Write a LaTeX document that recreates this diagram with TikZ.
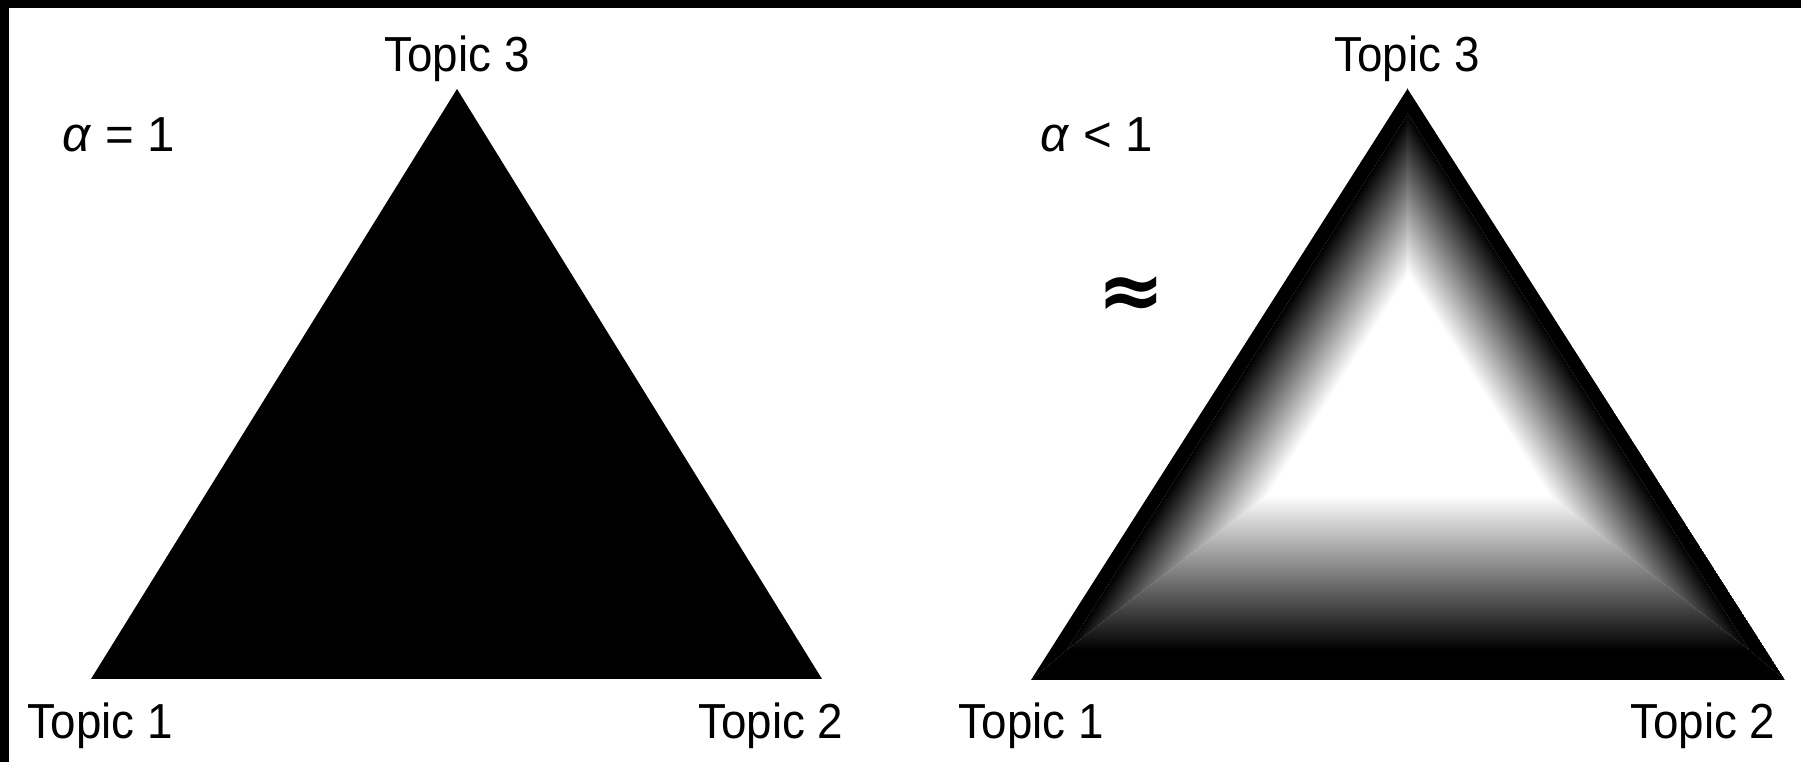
\documentclass[tikz,border=0pt]{standalone}
\usepackage{fontspec}
\setmainfont{Liberation Sans}
\newfontfamily\topicfont{Liberation Sans}[FakeStretch=0.93]
\newfontfamily\signfont{DejaVu Sans}
\usetikzlibrary{calc}

\begin{document}
\begin{tikzpicture}[
      topic/.style={inner sep=0pt, font=\topicfont\fontsize{14}{16}\selectfont},
      param/.style={inner sep=0pt, anchor=base west, font=\fontsize{14}{16}\selectfont},
      approxsign/.style={inner sep=0pt, font=\signfont\bfseries\fontsize{23}{26}\selectfont},
      solid band/.style={fill=black},
      fade band/.style={bottom color=black, top color=white}
  ]
      \useasboundingbox (0,0) rectangle (18.01,7.62);
      \fill[white] (0,0) rectangle (18.01,7.62);
      % frame
      \fill[black] (0,0) rectangle (0.09,7.62);
      \fill[black] (0,7.54) rectangle (18.01,7.62);

      % left simplex, alpha = 1
      \coordinate (l1) at (0.91,0.83);
      \coordinate (l2) at (8.22,0.83);
      \coordinate (l3) at (4.57,6.73);
      \fill[black] (l1) -- (l2) -- (l3) -- cycle;

      % right simplex, alpha < 1
      \coordinate (r1) at (10.31,0.82);
      \coordinate (r2) at (17.85,0.82);
      \coordinate (r3) at (14.07,6.74);
      \coordinate (p1) at ($(r1)+(0.357,0.30)$);
      \coordinate (p2) at ($(r1)+(2.364,1.85)$);
      \coordinate (q1) at ($(r2)+(-0.357,0.30)$);
      \coordinate (q2) at ($(r2)+(-2.364,1.85)$);
      \coordinate (mid) at (14.07,2.67);
      \begin{scope}
        \clip (r1) -- (p1) -- (p2) -- (q2) -- (q1) -- (r2) -- cycle;
        \fill[solid band] (10.31,0.82) rectangle (17.85,1.12);
        \shade[fade band] (10.31,1.12) rectangle (17.85,2.67);
      \end{scope}
      \begin{scope}
        \clip (r1) -- (p1) -- (p2) -- (mid) -- (r3) -- cycle;
        \begin{scope}[transform canvas={shift={(10.31,0.82)}, rotate=57.51, yscale=-1}]
          \fill[solid band] (-0.5,0) rectangle (7.5,0.14);
          \shade[fade band] (-0.5,0.14) rectangle (7.5,1.00);
        \end{scope}
      \end{scope}
      \begin{scope}
        \clip (r2) -- (q1) -- (q2) -- (mid) -- (r3) -- cycle;
        \begin{scope}[transform canvas={shift={(17.85,0.82)}, rotate=122.49}]
          \fill[solid band] (-0.5,0) rectangle (7.5,0.14);
          \shade[fade band] (-0.5,0.14) rectangle (7.5,1.00);
        \end{scope}
      \end{scope}

      % labels
      \node[topic, anchor=base] (lt3) at (4.57,6.90) {Topic 3};
      \node[topic, anchor=base west] (lt1) at (0.27,0.23) {Topic 1};
      \node[topic, anchor=base east] (lt2) at (8.44,0.23) {Topic 2};
      \node[param] (la) at (0.62,6.10) {\textit{α} = 1};

      \node[topic, anchor=base] (rt3) at (14.07,6.90) {Topic 3};
      \node[topic, anchor=base west] (rt1) at (9.58,0.23) {Topic 1};
      \node[topic, anchor=base east] (rt2) at (17.76,0.23) {Topic 2};
      \node[param] (ra) at (10.40,6.10) {\textit{α} \textless{} 1};
      \node[approxsign] (apx) at (11.31,4.64) {≈};
  \end{tikzpicture}
\end{document}
